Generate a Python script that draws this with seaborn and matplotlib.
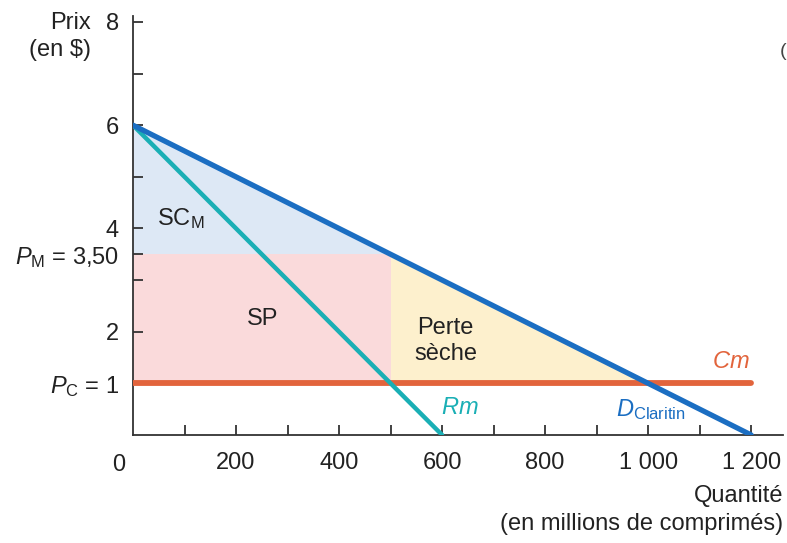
import matplotlib
matplotlib.use("Agg")
import matplotlib.pyplot as plt
import seaborn as sns
import pandas as pd
import numpy as np

# Data
demand_q = [0, 1200]
demand_p = [6, 0]
rm_q = [0, 600]
rm_p = [6, 0]
cm_q = [0, 1200]
cm_p = [1, 1]
q_monopoly = 500
p_monopoly = 3.5
p_competition = 1
q_competition = 1000
x_ticks = [200, 400, 600, 800, 1000, 1200]
x_tick_labels = ["200", "400", "600", "800", "1 000", "1 200"]
y_ticks = [1, 2, 3.5, 4, 6, 8]
y_tick_labels = [r"$P_{\mathrm{C}}$ = 1", "2", r"$P_{\mathrm{M}}$ = 3,50", "4", "6", "8"]

sns.set_style("white")
plt.rcParams['font.family'] = ['Liberation Sans', 'DejaVu Sans']
plt.rcParams['mathtext.fontset'] = 'custom'
plt.rcParams['mathtext.rm'] = 'Liberation Sans'
plt.rcParams['mathtext.it'] = 'Liberation Sans:italic'

BLUE = "#1b6ec2"
TEAL = "#1aafb5"
ORANGE = "#e2643c"
FILL_BLUE = "#dde8f5"
FILL_PINK = "#fadadb"
FILL_YELLOW = "#fdf0cd"
TXT = "#222222"
FS = 17

fig = plt.figure(figsize=(7.87, 5.43), dpi=100)
ax = fig.add_axes([0.169, 0.199, 0.826, 0.772])
ax.set_axisbelow(False)

# Shaded areas
dq = np.array([0, q_monopoly])
dp = np.interp(dq, demand_q, demand_p)
ax.fill_between(dq, p_monopoly, dp, color=FILL_BLUE, lw=0, zorder=1)
ax.fill_between([0, q_monopoly], p_competition, p_monopoly, color=FILL_PINK, lw=0, zorder=1)
yq = np.array([q_monopoly, q_competition])
yp = np.interp(yq, demand_q, demand_p)
ax.fill_between(yq, p_competition, yp, color=FILL_YELLOW, lw=0, zorder=1)

# Lines
sns.lineplot(x=cm_q, y=cm_p, ax=ax, color=ORANGE, lw=4.2, zorder=3, solid_capstyle="round")
sns.lineplot(x=rm_q, y=rm_p, ax=ax, color=TEAL, lw=3.2, zorder=4, solid_capstyle="round")
sns.lineplot(x=demand_q, y=demand_p, ax=ax, color=BLUE, lw=3.8, zorder=5, solid_capstyle="round")

ax.set_xlim(0, 1262)
ax.set_ylim(0, 8.12)

# Spines
for s in ["top", "right"]:
    ax.spines[s].set_visible(False)
for s in ["left", "bottom"]:
    ax.spines[s].set_color("#333333")
    ax.spines[s].set_linewidth(1.3)

# Ticks
ax.set_xticks(x_ticks)
ax.set_xticklabels(x_tick_labels)
ax.set_xticks(np.arange(100, 1201, 100), minor=True)
ax.set_yticks(y_ticks)
ax.set_yticklabels(y_tick_labels)
ax.set_yticks(np.arange(1, 9, 1), minor=True)
ax.tick_params(axis="both", which="both", direction="in", color="#333333", width=1.3,
               length=7, labelsize=FS, labelcolor=TXT, bottom=True, left=True)
ax.tick_params(axis="x", which="major", pad=12)
ax.tick_params(axis="y", which="major", pad=10)
ax.text(-0.012, -0.045, "0", transform=ax.transAxes, ha="right", va="top", fontsize=FS, color=TXT)

# Axis titles
fig.text(0.116, 0.978, "Prix\n(en $)", ha="right", va="top", fontsize=FS, color=TXT,
         linespacing=1.3)
fig.text(0.995, 0.106, "Quantité\n(en millions de comprimés)", ha="right", va="top",
         fontsize=FS, color=TXT, linespacing=1.35)

# Annotations
ax.text(93, 4.2, r"SC$_{\mathrm{M}}$", ha="center", va="center", fontsize=FS, color=TXT)
ax.text(252, 2.25, "SP", ha="center", va="center", fontsize=FS, color=TXT)
ax.text(607, 1.82, "Perte\nsèche", ha="center", va="center", fontsize=FS, color=TXT,
        linespacing=1.2)
ax.text(1160, 1.42, r"$Cm$", ha="center", va="center", fontsize=FS, color=ORANGE)
ax.text(634, 0.52, r"$Rm$", ha="center", va="center", fontsize=FS, color=TEAL)
ax.text(1005, 0.5, r"$D_{\mathrm{Claritin}}$", ha="center", va="center", fontsize=FS, color=BLUE)

fig.text(0.999, 0.905, "(", ha="right", va="center", fontsize=14, color="#444444")

fig.savefig("out.png", dpi=100)
